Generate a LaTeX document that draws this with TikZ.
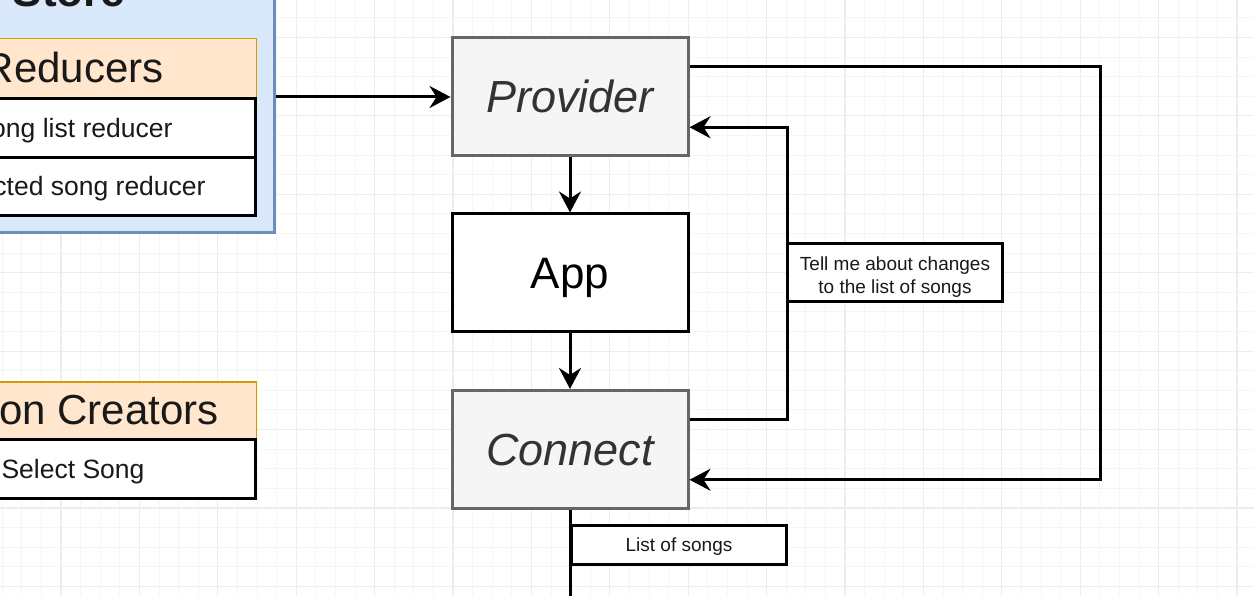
\documentclass[tikz,border=0pt]{standalone}
\usepackage{fontspec}
\setmainfont{Liberation Sans}
\usetikzlibrary{arrows.meta,calc}
\definecolor{storefill}{HTML}{DAE8FC}
\definecolor{storeline}{HTML}{6C8EBF}
\definecolor{headfill}{HTML}{FFE6CC}
\definecolor{headline}{HTML}{D79B00}
\definecolor{greyfill}{HTML}{F5F5F5}
\definecolor{greyline}{HTML}{666666}
\definecolor{greytext}{HTML}{333333}
\definecolor{gridminor}{HTML}{F5F5F5}
\definecolor{gridmajor}{HTML}{EDEDED}
\begin{document}
\begin{tikzpicture}[x=1pt,y=-1pt,
  minorline/.style={draw=gridminor,line width=1pt},
  majorline/.style={draw=gridmajor,line width=1.2pt},
  storebox/.style={draw=storeline,fill=storefill,line width=3pt,inner sep=0pt},
  headbox/.style={draw=headline,fill=headfill,line width=1.5pt,inner sep=0pt,
    minimum width=365pt,font=\fontsize{42pt}{50pt}\selectfont,text=black!90,
    text height=38pt,text depth=8.9pt},
  rowbox/.style={draw=black,fill=white,line width=3pt,inner sep=0pt,
    minimum width=365pt,font=\fontsize{26.5pt}{32pt}\selectfont,text=black!90,
    text height=24pt,text depth=5.6pt},
  greybox/.style={draw=greyline,fill=greyfill,line width=3pt,inner sep=0pt,
    minimum width=236pt,minimum height=118pt,text=greytext,
    font=\fontsize{45pt}{54pt}\selectfont\itshape,
    text height=40.7pt,text depth=9.5pt},
  plainbox/.style={draw=black,fill=white,line width=3pt,inner sep=0pt,
    minimum width=236pt,minimum height=118pt,text=black,
    font=\fontsize{44pt}{54pt}\selectfont,
    text height=39.8pt,text depth=9.3pt},
  labelbox/.style={draw=black,fill=white,line width=3pt,inner sep=0pt,
    minimum width=215pt,text=black!90,
    font=\fontsize{19pt}{23pt}\selectfont},
  link/.style={draw=black,line width=3pt},
  arrowlink/.style={link,-{Stealth[length=21pt,width=22pt,inset=7pt]}}]
\useasboundingbox (0,0) rectangle (1254,596);
\clip (0,0) rectangle (1254,596);
\fill[white] (0,0) rectangle (1254,596);
% grid
\foreach \i in {0,...,64} {\draw[minorline] ({2.2+19.6*\i},0) -- ({2.2+19.6*\i},596);}
\foreach \j in {0,...,30} {\draw[minorline] (0,{17.9+19.6*\j}) -- (1254,{17.9+19.6*\j});}
\foreach \i in {0,...,16} {\draw[majorline] ({-17.4+78.4*\i},0) -- ({-17.4+78.4*\i},596);}
\foreach \j in {0,...,7} {\draw[majorline] (0,{37.5+78.4*\j}) -- (1254,{37.5+78.4*\j});}
% store container
\node[storebox,minimum width=500pt,minimum height=300pt,anchor=south east] (store) at (276,234) {};
\node[anchor=base,font=\fontsize{44pt}{52pt}\selectfont\bfseries,text=black!90] (storetitle) at (69,7) {Store};
\node[headbox,minimum height=59pt,anchor=north east] (reducers) at (257,38) {Reducers};
\node[rowbox,minimum height=59pt,anchor=north east] (songlist) at (257,97) {Song list reducer};
\node[rowbox,minimum height=58pt,anchor=north east] (selected) at (257,156) {Selected song reducer};
\node[headbox,minimum height=57pt,anchor=north east] (actions) at (257,381) {Action Creators};
\node[rowbox,minimum height=59pt,anchor=north east] (selectsong) at (257,438) {Select Song};
% main column
\node[greybox] (pv) at (570,97) {Provider};
\node[plainbox] (app) at (570,273) {App};
\node[greybox] (cn) at (570,449.5) {Connect};
\coordinate (bottomend) at (570,600);
% connectors
\draw[arrowlink] (store.east |- pv.west) -- (pv.west);
\draw[arrowlink] (pv.south) -- (app.north);
\draw[arrowlink] (app.south) -- (cn.north);
\draw[arrowlink] ($(cn.north east)!0.25!(cn.south east)$) -- ++(98,0) |- ($(pv.north east)!0.75!(pv.south east)$);
\draw[arrowlink] ($(pv.north east)!0.25!(pv.south east)$) -- ++(411,0) |- ($(cn.north east)!0.75!(cn.south east)$);
\draw[link] (cn.south) -- (bottomend);
% labels
\node[labelbox,minimum height=58pt,anchor=west,text height=21pt,text depth=25pt] (tell) at (786,273)
  {\begin{tabular}[t]{@{}c@{}}Tell me about changes\\to the list of songs\end{tabular}};
\node[labelbox,minimum height=39pt,anchor=north west,text height=17.2pt,text depth=4pt] (listlabel) at (570,524) {List of songs};
\end{tikzpicture}
\end{document}
